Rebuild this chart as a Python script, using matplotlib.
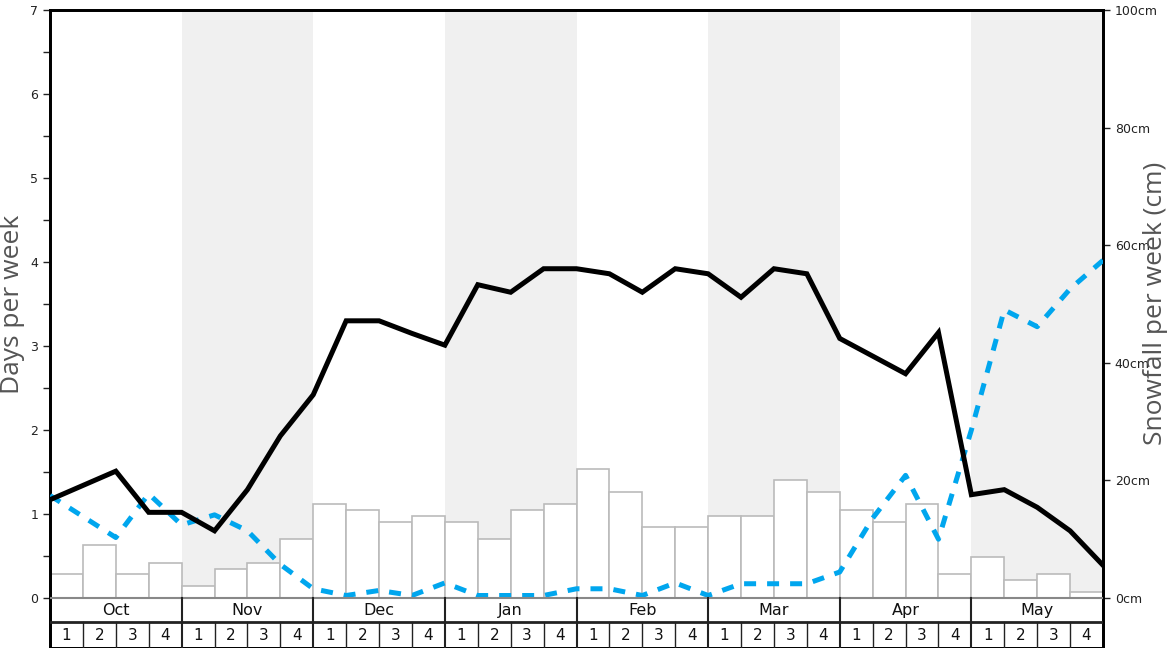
import matplotlib
matplotlib.use("Agg")
import matplotlib.pyplot as plt
import numpy as np

months = ["Oct", "Nov", "Dec", "Jan", "Feb", "Mar", "Apr", "May"]
weeks = ["1", "2", "3", "4"]

# weekly snowfall bars (cm), 4 weeks per month
snowfall_cm = [4, 9, 4, 6, 2, 5, 6, 10, 16, 15, 13, 14, 13, 10, 15, 16,
               22, 18, 12, 12, 14, 14, 20, 18, 15, 13, 16, 4, 7, 3, 4, 1]

# days per week, values at week boundaries (33 points)
snow_days = [1.17, 1.34, 1.51, 1.02, 1.02, 0.80, 1.29, 1.93, 2.42, 3.30, 3.30,
             3.15, 3.01, 3.73, 3.64, 3.92, 3.92, 3.86, 3.64, 3.92, 3.86, 3.58,
             3.92, 3.86, 3.09, 2.88, 2.67, 3.16, 1.23, 1.29, 1.08, 0.80, 0.39]
rain_days = [1.22, 0.97, 0.72, 1.24, 0.87, 0.99, 0.80, 0.40, 0.11, 0.03, 0.09,
             0.03, 0.18, 0.03, 0.03, 0.03, 0.11, 0.11, 0.03, 0.18, 0.03, 0.17,
             0.17, 0.17, 0.31, 0.95, 1.46, 0.70, 2.00, 3.43, 3.23, 3.68, 4.02]

W, H = 1168, 648
fig = plt.figure(figsize=(W / 100, H / 100), dpi=100)
ax = fig.add_axes([50 / W, 0, 1053 / W, 638 / H])
ax2 = ax.twinx()

ymin = -0.595
ax.set_xlim(0, 32)
ax.set_ylim(ymin, 7)
ax2.set_ylim(ymin / 7 * 100, 100)

# ax on top (lines + table), ax2 behind (shading + bars)
ax.set_zorder(ax2.get_zorder() + 1)
ax.patch.set_visible(False)

# shaded months
for i in range(1, len(months), 2):
    ax2.fill_between([i * 4, i * 4 + 4], 0, 100, color="#f0f0f0", lw=0, zorder=0)

# snowfall bars
ax2.bar(np.arange(32) + 0.5, snowfall_cm, width=1, facecolor="white",
        edgecolor="#bbbbbb", linewidth=1.2, zorder=2)

# lines
xs = np.arange(33)
ax.plot(xs, snow_days, color="black", lw=3.6, solid_joinstyle="miter", zorder=5)
ax.plot(xs, rain_days, color="#00a6ee", lw=3.6, dashes=(2.4, 2.2), zorder=4)

# month / week table below zero
row = -0.286
ax.axhline(0, color="#888888", lw=1.5, zorder=6)
ax.axhline(row, color="#222222", lw=2, zorder=6)
for i in range(1, len(months)):
    ax.plot([i * 4, i * 4], [ymin, 0], color="#222222", lw=1.5, zorder=6)
for i in range(32):
    if i % 4:
        ax.plot([i, i], [ymin, row], color="#222222", lw=1, zorder=6)
    ax.text(i + 0.5, (row + ymin) / 2 - 0.01, weeks[i % 4], ha="center", va="center",
            fontsize=11, color="#111111")
for i, m in enumerate(months):
    ax.text(i * 4 + 2, row / 2 - 0.01, m, ha="center", va="center",
            fontsize=11.5, color="#111111")

# axes styling
ax.set_xticks([])
ax.set_yticks(range(8))
ax.set_yticks(np.arange(0.5, 7, 1), minor=True)
ax.tick_params(axis="y", which="both", direction="out", length=5, width=1,
               labelsize=9, colors="#222222")
ax2.set_yticks(range(0, 101, 20))
ax2.set_yticklabels([f"{v}cm" for v in range(0, 101, 20)])
ax2.tick_params(axis="y", direction="out", length=5, width=1, labelsize=9,
                colors="#222222")
for a in (ax, ax2):
    for s in a.spines.values():
        s.set_linewidth(2)
        s.set_color("black")

fig.text(13 / W, 1 - 304 / H, "Days per week", rotation=90, ha="center",
         va="center", fontsize=19, color="#555555", family=["Open Sans", "DejaVu Sans"])
fig.text(1156 / W, 1 - 303 / H, "Snowfall per week (cm)", rotation=90, ha="center",
         va="center", fontsize=19, color="#555555", family=["Open Sans", "DejaVu Sans"])

fig.savefig("out.png", dpi=100, facecolor="white")
